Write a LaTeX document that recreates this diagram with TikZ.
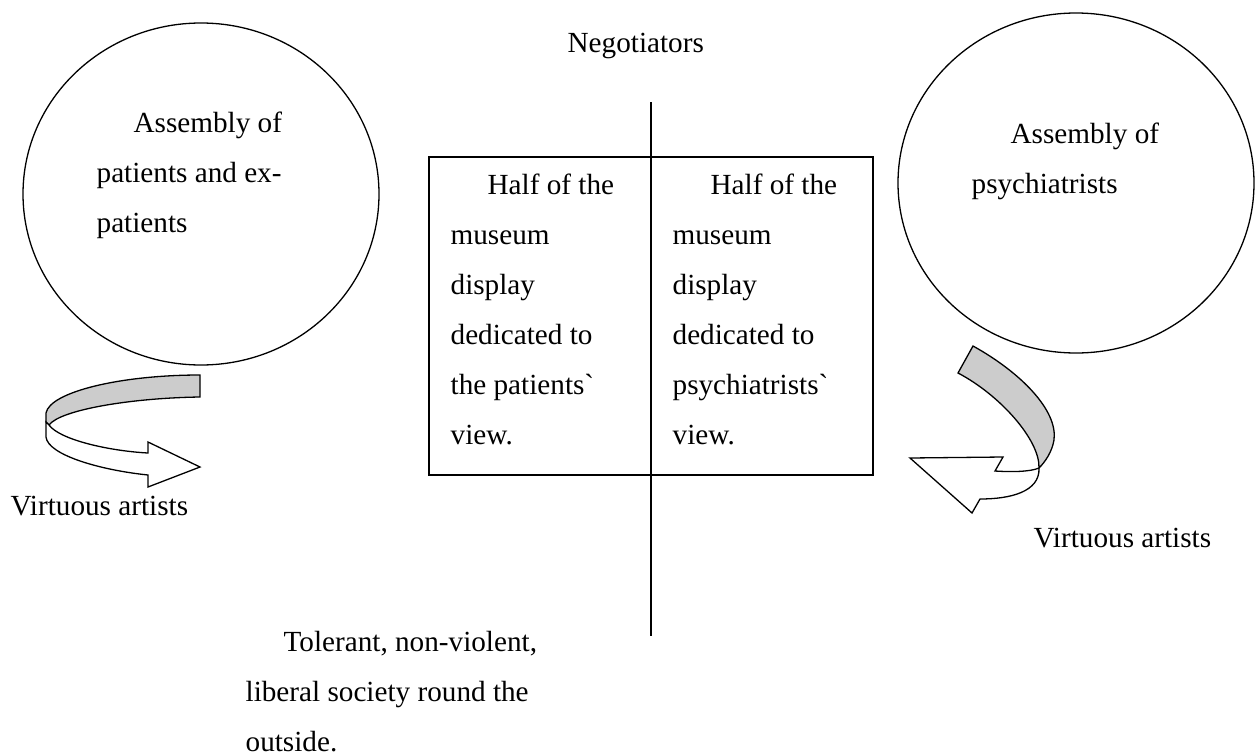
\documentclass[tikz,border=0pt]{standalone}
\usepackage{fontspec}
\setmainfont{Liberation Serif}
\usetikzlibrary{shapes.geometric}
\definecolor{bandgray}{RGB}{204,204,204}
\begin{document}
\begin{tikzpicture}[x=1pt,y=-1pt,line width=1.3pt,line join=miter,
  txt/.style={font=\fontsize{29.2}{50}\selectfont,inner sep=0,align=left,anchor=base west},
  ring/.style={draw,ellipse,minimum width=356pt,minimum height=342pt,inner sep=0},
  band/.style={draw,fill=bandgray},
  bandw/.style={draw,fill=white}]
\useasboundingbox (0,0) rectangle (1257,755);
% circles and box
\node[ring] (lc) at (201,194) {};
\node[ring,minimum height=340pt] (rc) at (1076,183) {};
\node[draw,minimum width=444pt,minimum height=318pt,inner sep=0] (box) at (651,316) {};
\coordinate (ntop) at (651,102);
\coordinate (nbot) at (651,636);
\draw (ntop) -- (nbot);
% texts (base anchor = baseline of the last line)
\node[txt] (neg) at (567,52) {Negotiators};
\node[txt] (lct) at (96,232) {\hspace*{37pt}Assembly of\\patients and ex-\\patients};
\node[txt] (rct) at (971,193) {\hspace*{39pt}Assembly of\\psychiatrists};
\node[txt] (bl) at (450,444) {\hspace*{37pt}Half of the\\museum\\display\\dedicated to\\the patients\textasciigrave\\view.};
\node[txt] (br) at (672,444) {\hspace*{38pt}Half of the\\museum\\display\\dedicated to\\psychiatrists\textasciigrave\\view.};
\node[txt] (val) at (10,515) {Virtuous artists};
\node[txt] (var) at (1033,547) {Virtuous artists};
\node[txt] (soc) at (245,751) {\hspace*{38pt}Tolerant, non-violent,\\liberal society round the\\outside.};
% left curved arrow
\path[band] (200,375) .. controls (120,375) and (50,392) .. (46,413) -- (46,422) -- (49,425)
  .. controls (60,410) and (130,398) .. (200,397) -- cycle;
\path[bandw] (49,425) .. controls (60,440) and (110,451) .. (148,453) -- (148,442) -- (200,467)
  -- (148,487) -- (148,475) .. controls (100,470) and (48,455) .. (46,437) -- (46,422) -- cycle;
% right curved arrow
\path[band] (973,346) .. controls (1020,372) and (1058,410) .. (1054,440)
  .. controls (1052,452) and (1045,462) .. (1039,468)
  .. controls (1040,440) and (1000,395) .. (958,373) -- cycle;
\path[bandw] (1039,468) .. controls (1030,472) and (1010,472) .. (995,471) -- (1003,457) -- (910,458)
  -- (972,513) -- (980,499) .. controls (1010,499) and (1040,492) .. (1039,468) -- cycle;
\end{tikzpicture}
\end{document}
